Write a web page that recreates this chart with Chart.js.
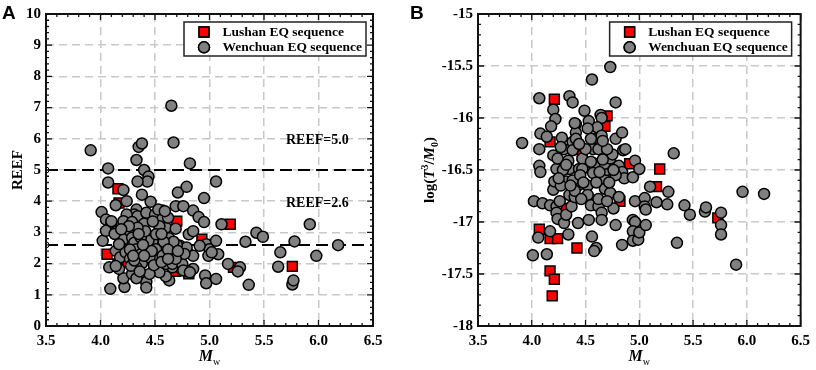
<!DOCTYPE html>
<html><head><meta charset="utf-8">
<script src="https://cdn.jsdelivr.net/npm/chart.js@4.4.1/dist/chart.umd.min.js"></script>
<style>
html,body{margin:0;padding:0;background:#fff;}
#wrap{position:relative;width:816px;height:370px;overflow:hidden;}
canvas{position:absolute;top:0;}
#cA{left:0;} #cB{left:408px;}
</style></head><body>
<div id="wrap"><canvas id="cA" width="408" height="370"></canvas><canvas id="cB" width="408" height="370"></canvas></div>
<script>
// ---------------- DATA ----------------
const seriesNames = ['Lushan EQ sequence', 'Wenchuan EQ sequence'];
const xTicks = [3.5, 4.0, 4.5, 5.0, 5.5, 6.0, 6.5];
const yTicksA = [0, 1, 2, 3, 4, 5, 6, 7, 8, 9, 10];
const yTicksB = [-18, -17.5, -17, -16.5, -16, -15.5, -15];
const reefLevels = [5.0, 2.6];
const reefLabels = ['REEF=5.0', 'REEF=2.6'];

// Panel A : REEF vs Mw
const aLushanMw   = [4.16,4.17,4.06,4.19,4.24,4.16,4.42,4.47,4.49,4.70,4.69,4.93,5.19,5.22,5.76,4.81];
const aLushanReef = [4.40,3.94,2.30,2.52,2.06,1.99,1.49,2.15,2.09,3.36,1.75,2.78,3.26,1.88,1.91,1.67];

const aWenMw = [3.91,4.07,4.07,4.02,4.01,4.05,4.10,4.05,4.14,4.08,4.09,4.14,4.21,4.24,4.33,4.35,4.38,4.40,4.44,4.43,
  4.34,4.38,4.46,4.33,4.31,4.34,4.24,4.21,4.29,4.40,4.42,4.50,4.57,4.57,4.60,4.69,4.76,4.85,4.90,4.95,
  4.71,4.79,4.82,4.67,4.65,4.95,5.06,4.69,4.81,4.85,4.63,4.54,4.48,4.73,4.80,4.85,4.97,5.00,5.06,5.08,
  5.11,5.17,5.28,5.26,5.33,5.43,5.49,5.36,5.65,5.63,5.78,5.76,5.77,5.92,5.98,6.18,4.96,4.97,5.06,4.99,
  4.85,4.79,4.74,4.66,4.63,4.60,4.54,4.53,4.42,4.42,4.45,4.22,4.21,4.17,4.14,4.18,4.21,4.27,4.29,4.31,
  4.33,4.37,4.38,4.33,4.29,4.33,4.43,4.44,4.51,4.57,4.60,4.65,4.66,4.75,4.79,4.91,4.37,4.41,4.23,4.17,
  4.27,4.28,4.54,4.62,4.51,4.10,4.53,4.59,5.02,4.76,4.82,4.77,4.70,4.67,4.34,4.39,4.45,4.58,4.62,4.13,
  4.31,4.14,4.36,4.49,4.69,4.27,4.30,4.47,4.56,4.62,4.35,4.48,4.26,4.19,4.71,4.56,4.40];
const aWenReef = [5.63,5.05,4.60,2.73,3.65,3.41,3.31,3.05,3.01,1.88,1.19,3.87,4.36,4.00,5.32,5.74,5.85,5.00,4.79,4.63,
  4.63,4.21,3.98,3.73,3.57,3.52,3.57,3.36,3.33,3.28,3.63,3.57,3.70,3.45,3.15,3.84,3.84,3.70,3.49,3.33,
  4.28,4.46,5.21,5.88,7.06,4.10,4.63,3.12,2.94,3.04,2.81,2.73,2.73,2.57,2.36,2.25,2.62,2.46,2.73,2.30,
  3.26,1.99,1.88,1.75,2.70,2.99,2.86,1.32,2.36,1.90,2.71,1.33,1.46,3.26,2.25,2.59,1.62,1.37,1.51,2.25,
  1.83,1.78,1.83,1.88,1.46,1.59,1.72,2.15,1.41,1.23,1.67,1.25,1.53,1.83,2.41,2.20,2.78,3.04,2.83,2.67,
  2.46,2.30,2.01,1.88,1.67,1.53,2.41,2.73,2.46,2.25,1.99,2.30,1.99,1.99,2.52,2.57,2.83,3.04,2.36,2.62,
  2.15,1.93,3.20,3.47,2.94,3.36,3.73,3.68,2.36,1.78,1.72,2.31,2.60,2.70,3.15,2.60,2.20,2.70,2.45,2.95,
  2.10,1.92,1.75,1.95,2.15,2.45,2.25,2.40,2.05,2.15,2.95,3.35,3.20,3.10,2.40,2.95,2.25];

// Panel B : log(T^3/M0) vs Mw
const bLushanMw   = [4.21,4.17,4.07,4.17,4.24,4.30,4.17,4.21,4.19,4.42,4.47,4.50,4.70,4.68,4.91,5.19,5.16,4.70,4.56,4.82,5.73];
const bLushanLogT = [-15.82,-16.23,-17.07,-17.16,-17.16,-16.87,-17.47,-17.55,-17.71,-17.25,-16.36,-16.43,-15.98,-16.08,-16.44,-16.49,-16.66,-16.68,-16.79,-16.80,-16.96];

const bWenMw = [3.91,4.07,4.08,4.07,4.07,4.08,4.02,4.10,4.06,4.01,4.14,4.14,4.17,4.17,4.20,4.22,4.18,4.20,4.23,4.20,
  4.23,4.23,4.24,4.30,4.32,4.34,4.35,4.38,4.28,4.30,4.34,4.35,4.32,4.35,4.43,4.37,4.41,4.41,4.38,4.38,
  4.41,4.44,4.43,4.49,4.53,4.56,4.73,4.64,4.65,4.78,4.57,4.57,4.62,4.59,4.57,4.52,4.52,4.55,4.53,4.56,
  4.60,4.58,4.62,4.65,4.65,4.68,4.67,4.70,4.68,4.73,4.75,4.78,4.84,4.85,4.81,4.84,4.86,4.78,4.73,4.81,
  4.76,4.78,4.84,4.87,4.96,4.94,5.00,4.96,4.94,4.96,4.94,4.94,4.99,5.00,5.06,5.05,5.05,5.06,5.10,5.16,
  5.26,5.27,5.32,5.35,5.42,5.47,5.61,5.62,5.76,5.76,5.76,5.90,5.96,6.16,4.21,4.26,4.47,4.47,4.61,4.65,
  4.70,4.40,4.38,4.29,4.24,4.45,4.40,4.48,4.60,4.63,4.66,4.55,4.50,4.44,4.62,4.72,4.76,4.70,4.27,4.32,
  4.27,4.25,4.36,4.46,4.66,4.55,4.52,4.40];
const bWenLogT = [-16.24,-15.81,-16.15,-16.30,-16.46,-16.52,-16.80,-16.82,-17.15,-17.32,-16.18,-17.31,-17.09,-16.84,-15.92,-16.01,-16.08,-16.36,-16.49,-16.69,
  -16.85,-16.91,-16.97,-17.01,-16.93,-17.12,-15.79,-15.85,-16.19,-16.30,-16.41,-16.49,-16.61,-16.74,-17.01,-16.85,-16.06,-16.14,-16.23,-16.31,
  -16.20,-16.49,-16.65,-15.93,-16.03,-15.63,-15.51,-15.97,-16.00,-15.85,-16.20,-16.30,-16.30,-16.44,-16.53,-16.65,-16.74,-16.84,-16.98,-17.14,
  -17.25,-17.28,-16.85,-16.91,-16.98,-16.68,-16.58,-16.50,-16.44,-16.39,-16.35,-16.20,-16.14,-16.31,-16.46,-16.52,-16.58,-16.55,-16.72,-16.76,
  -16.87,-17.03,-17.22,-16.30,-16.41,-16.57,-16.49,-16.80,-16.98,-17.00,-17.09,-17.18,-17.17,-17.10,-17.03,-16.77,-16.85,-16.88,-16.66,-16.81,
  -16.83,-16.71,-16.34,-17.20,-16.84,-16.93,-16.90,-16.86,-16.91,-17.03,-17.12,-17.41,-16.71,-16.73,-16.61,-16.80,-16.39,-16.49,-16.09,-16.17,
  -16.30,-16.76,-16.60,-16.50,-16.39,-16.55,-16.70,-16.62,-16.62,-16.52,-16.40,-16.42,-16.30,-16.25,-16.78,-16.62,-16.50,-16.80,-16.65,-16.45,
  -16.28,-16.58,-16.65,-16.78,-16.22,-16.20,-16.10,-16.05];

// ---------------- HELPERS ----------------
const pts = (xs, ys) => xs.map((x, i) => ({x: x, y: ys[i]}));
const SERIF = '"Liberation Serif", "Times New Roman", serif';
const GRAY = '#808080', RED = '#ff0000';

const framePlugin = {
  id: 'frame',
  afterDatasetsDraw(chart, args, o) {
    const {ctx, chartArea: a, scales} = chart;
    ctx.save();
    ctx.strokeStyle = '#111';
    ctx.lineWidth = 1.3;
    const drawTicks = (scale, major, minor, horiz) => {
      const n = Math.round((scale.max - scale.min) / minor);
      const every = Math.round(major / minor);
      for (let i = 0; i <= n; i++) {
        const v = scale.min + i * minor;
        const p = scale.getPixelForValue(v);
        const len = (i % every === 0) ? 6 : 3;
        ctx.beginPath();
        if (horiz) {
          ctx.moveTo(p, a.bottom); ctx.lineTo(p, a.bottom - len);
          ctx.moveTo(p, a.top); ctx.lineTo(p, a.top + len);
        } else {
          ctx.moveTo(a.left, p); ctx.lineTo(a.left + len, p);
          ctx.moveTo(a.right, p); ctx.lineTo(a.right - len, p);
        }
        ctx.stroke();
      }
    };
    drawTicks(scales.x, o.xMajor, o.xMinor, true);
    drawTicks(scales.y, o.yMajor, o.yMinor, false);
    ctx.lineWidth = 2;
    ctx.strokeStyle = '#111';
    ctx.strokeRect(a.left, a.top, a.right - a.left, a.bottom - a.top);
    ctx.restore();
  }
};

function drawRich(ctx, pieces, x, y, rotate) {
  ctx.save();
  ctx.translate(x, y);
  if (rotate) ctx.rotate(-Math.PI / 2);
  let total = 0;
  pieces.forEach(p => { ctx.font = p.f; total += ctx.measureText(p.t).width; });
  let cx = -total / 2;
  ctx.fillStyle = '#000';
  ctx.textBaseline = 'alphabetic';
  ctx.textAlign = 'left';
  pieces.forEach(p => { ctx.font = p.f; ctx.fillText(p.t, cx, p.dy || 0); cx += ctx.measureText(p.t).width; });
  ctx.restore();
}

const overlayPlugin = {
  id: 'overlay',
  afterDraw(chart, args, o) {
    const {ctx, chartArea: a, scales} = chart;
    ctx.save();
    ctx.fillStyle = '#000';
    ctx.font = 'bold 19px "Liberation Sans", Arial, sans-serif';
    ctx.textAlign = 'left'; ctx.textBaseline = 'alphabetic';
    ctx.fillText(o.letter, 2, 19);
    const cxm = (a.left + a.right) / 2;
    drawRich(ctx, [
      {t: 'M', f: 'italic bold 16px ' + SERIF},
      {t: 'w', f: '10px ' + SERIF, dy: 4}
    ], cxm, 361, false);
    const cym = (a.top + a.bottom) / 2;
    drawRich(ctx, o.yTitle, o.yTitleX, cym, true);
    if (o.notes) {
      ctx.font = 'bold 14px ' + SERIF;
      ctx.textAlign = 'center'; ctx.textBaseline = 'middle';
      o.notes.forEach(n => {
        ctx.fillText(n.t, scales.x.getPixelForValue(n.x), scales.y.getPixelForValue(n.y));
      });
    }
    const w = 182, h = 34;
    const lx = a.right - o.legRight - w, ly = a.top + 8;
    ctx.fillStyle = '#fff';
    ctx.fillRect(lx, ly, w, h);
    ctx.strokeStyle = '#222'; ctx.lineWidth = 1.5;
    ctx.strokeRect(lx, ly, w, h);
    const items = [
      {style: 'rect', bg: RED, r: 7},
      {style: 'circle', bg: GRAY, r: 5.5}
    ];
    items.forEach((it, i) => {
      const yy = ly + 10 + i * 15.3;
      ctx.fillStyle = it.bg; ctx.strokeStyle = '#000'; ctx.lineWidth = 1.5;
      Chart.helpers.drawPoint(ctx, {pointStyle: it.style, radius: it.r, rotation: 0, borderWidth: 1.5}, lx + 20, yy);
      ctx.fill(); ctx.stroke();
      ctx.fillStyle = '#000';
      ctx.font = 'bold 13.5px ' + SERIF;
      ctx.textAlign = 'left'; ctx.textBaseline = 'middle';
      ctx.fillText(seriesNames[i], lx + 38.5, yy + 0.5);
    });
    ctx.restore();
  }
};

function makeChart(id, cfg) {
  const tickFont = {family: SERIF, size: 15, weight: 'bold'};
  const datasets = [
    {label: seriesNames[1], data: pts(cfg.wenX, cfg.wenY), pointStyle: 'circle', pointRadius: 5.5,
      backgroundColor: GRAY, borderColor: '#000', borderWidth: 1.5, order: 1},
    {label: seriesNames[0], data: pts(cfg.luX, cfg.luY), pointStyle: 'rect', pointRadius: 7,
      backgroundColor: RED, borderColor: '#000', borderWidth: 1.5, order: 2}
  ];
  (cfg.levels || []).forEach(v => {
    datasets.push({type: 'line', data: [{x: xTicks[0], y: v}, {x: xTicks[xTicks.length - 1], y: v}],
      borderColor: '#000', borderWidth: 2, borderDash: [12, 6], pointRadius: [3, 0],
      pointBackgroundColor: '#fff', pointBorderColor: '#000', pointBorderWidth: 1, order: 3});
  });
  return new Chart(document.getElementById(id), {
    type: 'scatter',
    data: {datasets: datasets},
    plugins: [framePlugin, overlayPlugin],
    options: {
      responsive: false, animation: false, events: [],
      layout: {padding: {left: 0, top: cfg.top, right: cfg.right, bottom: 0}},
      plugins: {
        legend: {display: false}, tooltip: {enabled: false},
        frame: {xMajor: 0.5, xMinor: 0.1, yMajor: cfg.yStep, yMinor: cfg.yMinor},
        overlay: cfg.overlay
      },
      scales: {
        x: {type: 'linear', min: xTicks[0], max: xTicks[xTicks.length - 1],
          afterBuildTicks: s => { s.ticks = xTicks.map(v => ({value: v})); },
          afterFit: s => { s.height = 44; },
          ticks: {font: tickFont, color: '#000', padding: 6, maxRotation: 0, callback: v => v.toFixed(1)},
          grid: {color: '#c8c8c8', lineWidth: 1.5, drawTicks: false},
          border: {display: false, dash: [8, 5]}},
        y: {type: 'linear', min: cfg.yTicks[0], max: cfg.yTicks[cfg.yTicks.length - 1],
          afterBuildTicks: s => { s.ticks = cfg.yTicks.map(v => ({value: v})); },
          afterFit: s => { s.width = cfg.left; },
          ticks: {font: tickFont, color: '#000', padding: 5, callback: v => String(Math.round(v * 10) / 10)},
          grid: {color: '#c8c8c8', lineWidth: 1.5, drawTicks: false},
          border: {display: false, dash: [8, 5]}}
      }
    }
  });
}

makeChart('cA', {
  wenX: aWenMw, wenY: aWenReef, luX: aLushanMw, luY: aLushanReef, levels: reefLevels,
  yTicks: yTicksA, yStep: 1, yMinor: 0.2, left: 46, top: 11, right: 35,
  overlay: {letter: 'A', yTitleX: 22,
    yTitle: [{t: 'REEF', f: 'bold 15px ' + SERIF}],
    notes: [{t: reefLabels[0], x: 5.99, y: 5.96}, {t: reefLabels[1], x: 5.99, y: 3.93}],
    legRight: 7}
});
makeChart('cB', {
  wenX: bWenMw, wenY: bWenLogT, luX: bLushanMw, luY: bLushanLogT, levels: [],
  yTicks: yTicksB, yStep: 0.5, yMinor: 0.1, left: 70, top: 10, right: 9,
  overlay: {letter: 'B', yTitleX: 26,
    yTitle: [
      {t: 'log(', f: 'bold 15px ' + SERIF},
      {t: 'T', f: 'italic bold 15px ' + SERIF},
      {t: '3', f: 'bold 10px ' + SERIF, dy: -6},
      {t: '/', f: 'bold 15px ' + SERIF},
      {t: 'M', f: 'italic bold 15px ' + SERIF},
      {t: '0', f: 'bold 10px ' + SERIF, dy: 4},
      {t: ')', f: 'bold 15px ' + SERIF}
    ],
    legRight: 9}
});
</script>
</body></html>
